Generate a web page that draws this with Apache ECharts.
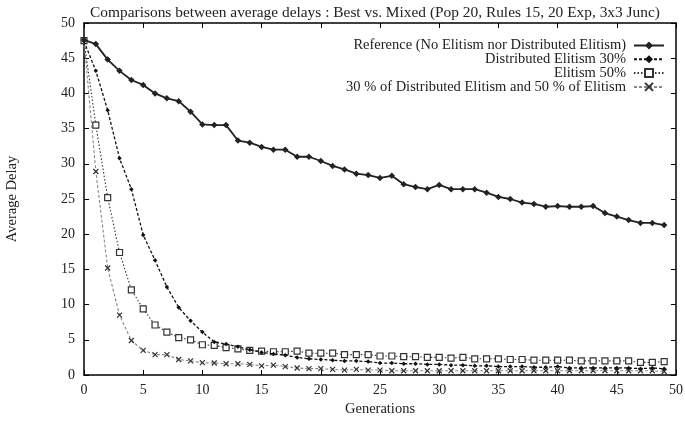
<!DOCTYPE html>
<html><head><meta charset="utf-8">
<script src="https://cdn.jsdelivr.net/npm/echarts@6/dist/echarts.min.js"></script>
<style>html,body{margin:0;padding:0;background:#fff}#c{width:685px;height:422px}</style>
</head><body><div id="c"></div>
<script>
const generations = [0,1,2,3,4,5,6,7,8,9,10,11,12,13,14,15,16,17,18,19,20,21,22,23,24,25,26,27,28,29,30,31,32,33,34,35,36,37,38,39,40,41,42,43,44,45,46,47,48,49];
const reference = [47.6,47.0,44.8,43.2,41.9,41.2,40.0,39.3,38.9,37.4,35.6,35.5,35.5,33.3,33.0,32.4,32.0,32.0,31.0,31.0,30.4,29.7,29.2,28.6,28.4,28.0,28.3,27.1,26.7,26.4,27.0,26.4,26.4,26.4,25.9,25.3,25.0,24.5,24.3,23.9,24.0,23.9,23.9,24.0,23.0,22.5,22.0,21.6,21.6,21.3];
const distElitism30 = [47.4,43.2,37.6,30.8,26.4,19.9,16.3,12.5,9.6,7.7,6.1,4.7,4.4,4.0,3.6,3.2,3.0,2.8,2.5,2.3,2.2,2.1,2.0,2.0,1.9,1.7,1.7,1.6,1.6,1.5,1.5,1.4,1.4,1.3,1.3,1.2,1.2,1.2,1.1,1.1,1.2,1.0,1.0,1.0,1.0,1.0,1.0,0.9,1.0,0.9];
const elitism50 = [47.5,35.5,25.2,17.4,12.1,9.4,7.1,6.1,5.3,5.0,4.3,4.2,3.9,3.7,3.5,3.4,3.3,3.3,3.4,3.1,3.1,3.1,2.9,2.9,2.9,2.7,2.7,2.6,2.6,2.5,2.5,2.4,2.5,2.3,2.3,2.3,2.2,2.2,2.1,2.1,2.1,2.1,2.0,2.0,2.0,2.0,2.0,1.8,1.8,1.9];
const mixed = [47.5,28.9,15.2,8.5,4.9,3.5,2.9,2.9,2.2,2.0,1.75,1.7,1.6,1.6,1.5,1.3,1.4,1.2,1.0,0.9,0.9,0.8,0.7,0.8,0.7,0.7,0.6,0.6,0.6,0.6,0.6,0.6,0.6,0.6,0.6,0.6,0.6,0.6,0.6,0.6,0.6,0.6,0.6,0.6,0.6,0.6,0.6,0.6,0.6,0.5];
const seriesNames = ['Reference (No Elitism nor Distributed Elitism)','Distributed Elitism 30%','Elitism 50%','30 % of Distributed Elitism and 50 % of Elitism'];
const titleText = 'Comparisons between average delays : Best vs. Mixed (Pop 20, Rules 15, 20 Exp, 3x3 Junc)';

const pair = arr => arr.map((v,i)=>[generations[i], v]);
const FONT = 'Liberation Serif';
const chart = echarts.init(document.getElementById('c'), null, {renderer:'canvas'});
const xPath = 'path://M0,0L10,10M10,0L0,10';
const axisCommon = {
  type:'value', min:0, max:50, interval:5,
  axisLine:{show:true, onZero:false, lineStyle:{color:'#000', width:1.5}},
  axisTick:{show:true, inside:true, length:5, lineStyle:{color:'#000', width:1}},
  splitLine:{show:false},
};
chart.setOption({
  animation:false,
  backgroundColor:'#fff',
  textStyle:{fontFamily:FONT},
  title:{text:titleText, left:375, textAlign:'center', top:5, padding:0,
    textStyle:{fontFamily:FONT, fontSize:15.4, fontWeight:'normal', color:'#222'}},
  grid:{left:84, right:9, top:23, bottom:47, containLabel:false, outerBoundsMode:'none'},
  legend:{
    orient:'vertical', right:20, top:38, align:'right', itemGap:-1.2, padding:0,
    itemWidth:30, itemHeight:10,
    textStyle:{fontFamily:FONT, fontSize:14.5, color:'#222', padding:[0,3,0,0]},
    data:seriesNames
  },
  xAxis:[
    Object.assign({}, axisCommon, {position:'bottom', name:'Generations', nameLocation:'middle', nameGap:18,
      nameTextStyle:{fontFamily:FONT, fontSize:14.5, color:'#222'},
      axisLabel:{fontFamily:FONT, fontSize:14, color:'#222', margin:8}}),
    Object.assign({}, axisCommon, {position:'top', axisLabel:{show:false}})
  ],
  yAxis:[
    Object.assign({}, axisCommon, {position:'left', name:'Average Delay', nameLocation:'middle', nameGap:64,
      nameTextStyle:{fontFamily:FONT, fontSize:14.5, color:'#222'},
      axisLabel:{fontFamily:FONT, fontSize:14, color:'#222', margin:9}}),
    Object.assign({}, axisCommon, {position:'right', axisLabel:{show:false}})
  ],
  series:[
    {name:seriesNames[0], type:'line', data:pair(reference), symbol:'diamond', symbolSize:6.5,
      lineStyle:{color:'#222', width:1.8, type:'solid'}, itemStyle:{color:'#222'}, z:5},
    {name:seriesNames[1], type:'line', data:pair(distElitism30), symbol:'diamond', symbolSize:4.5,
      lineStyle:{color:'#111', width:1.3, type:[3,2]}, itemStyle:{color:'#111'}, z:4},
    {name:seriesNames[2], type:'line', data:pair(elitism50), symbol:'rect', symbolSize:6,
      lineStyle:{color:'#333', width:1.1, type:[1.5,2]}, itemStyle:{color:'#fff', borderColor:'#333', borderWidth:1.2}, z:3},
    {name:seriesNames[3], type:'line', data:pair(mixed), symbol:xPath, symbolSize:5,
      lineStyle:{color:'#888', width:1.1, type:[3,2]}, itemStyle:{color:'#333', borderColor:'#333', borderWidth:1.2}, z:2}
  ]
});
</script></body></html>
